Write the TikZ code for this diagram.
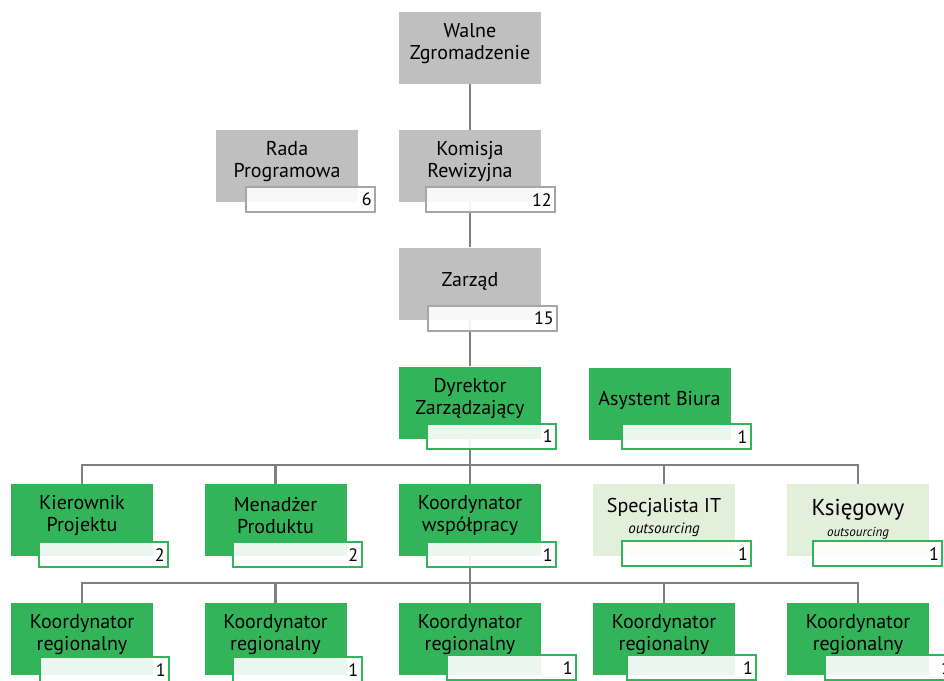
\documentclass[tikz,border=0pt]{standalone}
\usepackage{fontspec}
\setmainfont{PT Sans}
\usetikzlibrary{positioning,backgrounds}
\definecolor{boxgray}{HTML}{BFBFBF}
\definecolor{numgray}{HTML}{A6A6A6}
\definecolor{boxgreen}{HTML}{34B45A}
\definecolor{palegreen}{HTML}{E2EFDA}
\definecolor{linegray}{HTML}{7F7F7F}
\tikzset{
  unit/.style={minimum width=142pt,minimum height=72pt,inner sep=0pt},
  grayunit/.style={unit,fill=boxgray},
  greenunit/.style={unit,fill=boxgreen},
  paleunit/.style={unit,fill=palegreen},
  title/.style={align=center,inner sep=0pt,font=\fontsize{20}{22}\selectfont},
  count/.style={anchor=north east,minimum width=129pt,minimum height=25pt,
    text width=122pt,align=right,inner xsep=3.5pt,inner ysep=0pt,line width=1.8pt,
    fill=white,fill opacity=0.9,text opacity=1,font=\fontsize{18}{18}\selectfont},
  graycount/.style={count,draw=numgray},
  greencount/.style={count,draw=boxgreen},
  wire/.style={draw=linegray,line width=2.4pt},
}
\newcommand{\outs}[1]{{\fontsize{#1}{#1}\selectfont\itshape outsourcing}}

\begin{document}
\begin{tikzpicture}[x=1pt,y=-1pt]
    \useasboundingbox (0,0) rectangle (944,680);
    % governing bodies
    \node[grayunit] (walne) at (470,48) {};
    \node[title] (walne-t) at ([yshift=4pt]walne.center) {Walne\\Zgromadzenie};
    \node[grayunit] (rada) at (287,166) {};
    \node[title] (rada-t) at ([yshift=4pt]rada.center) {Rada\\Programowa};
    \node[graycount] (rada-n) at ([xshift=18pt,yshift=16pt]rada.south east) {6};
    \node[grayunit] (komisja) at (470,166) {};
    \node[title] (komisja-t) at ([yshift=4pt]komisja.center) {Komisja\\Rewizyjna};
    \node[graycount] (komisja-n) at ([xshift=15pt,yshift=16pt]komisja.south east) {12};
    \node[grayunit] (zarzad) at (470,283.5) {};
    \node[title] (zarzad-t) at ([yshift=2pt]zarzad.center) {Zarząd};
    \node[graycount] (zarzad-n) at ([xshift=17pt,yshift=15pt]zarzad.south east) {15};
    % office
    \node[greenunit] (dyrektor) at (470,402.5) {};
    \node[title] (dyrektor-t) at ([yshift=4pt]dyrektor.center) {Dyrektor\\Zarządzający};
    \node[greencount] (dyrektor-n) at ([xshift=16pt,yshift=16pt]dyrektor.south east) {1};
    \node[greenunit] (asystent) at (659.5,404) {};
    \node[title] (asystent-t) at ([yshift=4pt]asystent.center) {Asystent Biura};
    \node[greencount] (asystent-n) at ([xshift=21pt,yshift=17pt]asystent.south east) {1};
    % third level
    \node[greenunit] (kierownik) at (82,520) {};
    \node[title] (kierownik-t) at ([yshift=4pt]kierownik.center) {Kierownik\\Projektu};
    \node[greencount] (kierownik-n) at ([xshift=16pt,yshift=15pt]kierownik.south east) {2};
    \node[greenunit] (menadzer) at (275.5,520) {};
    \node[title] (menadzer-t) at ([yshift=4pt]menadzer.center) {Menadżer\\Produktu};
    \node[greencount] (menadzer-n) at ([xshift=16pt,yshift=15pt]menadzer.south east) {2};
    \node[greenunit] (koordynator) at (470,520) {};
    \node[title] (koordynator-t) at ([yshift=4pt]koordynator.center) {Koordynator\\współpracy};
    \node[greencount] (koordynator-n) at ([xshift=16pt,yshift=15pt]koordynator.south east) {1};
    \node[paleunit] (specjalista) at (664,520) {};
    \node[title] (specjalista-t) at ([yshift=3pt]specjalista.center) {Specjalista IT\\[-1pt]\outs{15}};
    \node[greencount] (specjalista-n) at ([xshift=17pt,yshift=16pt]specjalista.south east) {1};
    \node[paleunit] (ksiegowy) at (858,520) {};
    \node[title,font=\fontsize{23}{23}\selectfont] (ksiegowy-t) at ([yshift=1pt]ksiegowy.center) {Księgowy\\[-2pt]\outs{13}};
    \node[greencount] (ksiegowy-n) at ([xshift=14pt,yshift=16pt]ksiegowy.south east) {1};
    % regional coordinators
    \node[greenunit] (region1) at (82,639) {};
    \node[title] (region1-t) at ([yshift=4pt]region1.center) {Koordynator\\regionalny};
    \node[greencount] (region1-n) at ([xshift=17pt,yshift=19pt]region1.south east) {1};
    \node[greenunit] (region2) at (275.5,639) {};
    \node[title] (region2-t) at ([yshift=4pt]region2.center) {Koordynator\\regionalny};
    \node[greencount] (region2-n) at ([xshift=16pt,yshift=19pt]region2.south east) {1};
    \node[greenunit] (region3) at (470,639) {};
    \node[title] (region3-t) at ([yshift=4pt]region3.center) {Koordynator\\regionalny};
    \node[greencount] (region3-n) at ([xshift=36pt,yshift=21pt]region3.south east) {1};
    \node[greenunit] (region4) at (664,639) {};
    \node[title] (region4-t) at ([yshift=4pt]region4.center) {Koordynator\\regionalny};
    \node[greencount] (region4-n) at ([xshift=22pt,yshift=21pt]region4.south east) {1};
    \node[greenunit] (region5) at (858,639) {};
    \node[title] (region5-t) at ([yshift=4pt]region5.center) {Koordynator\\regionalny};
    \node[greencount] (region5-n) at ([xshift=26pt,yshift=21pt]region5.south east) {1};
    % connectors
    \coordinate (bus1) at (470,465);
    \coordinate (bus2) at (470,583);
    \begin{scope}[on background layer]
      \draw[wire] (walne) -- (komisja);
      \draw[wire] (komisja) -- (zarzad);
      \draw[wire] (zarzad) -- (dyrektor);
      \draw[wire] (dyrektor) -- (bus1);
      \draw[wire] (bus1) -| (kierownik);
      \draw[wire] (bus1) -| (menadzer);
      \draw[wire] (bus1) -- (koordynator);
      \draw[wire] (bus1) -| (specjalista);
      \draw[wire] (bus1) -| (ksiegowy);
      \draw[wire] (koordynator) -- (bus2);
      \draw[wire] (bus2) -| (region1);
      \draw[wire] (bus2) -| (region2);
      \draw[wire] (bus2) -- (region3);
      \draw[wire] (bus2) -| (region4);
      \draw[wire] (bus2) -| (region5);
    \end{scope}
\end{tikzpicture}
\end{document}
